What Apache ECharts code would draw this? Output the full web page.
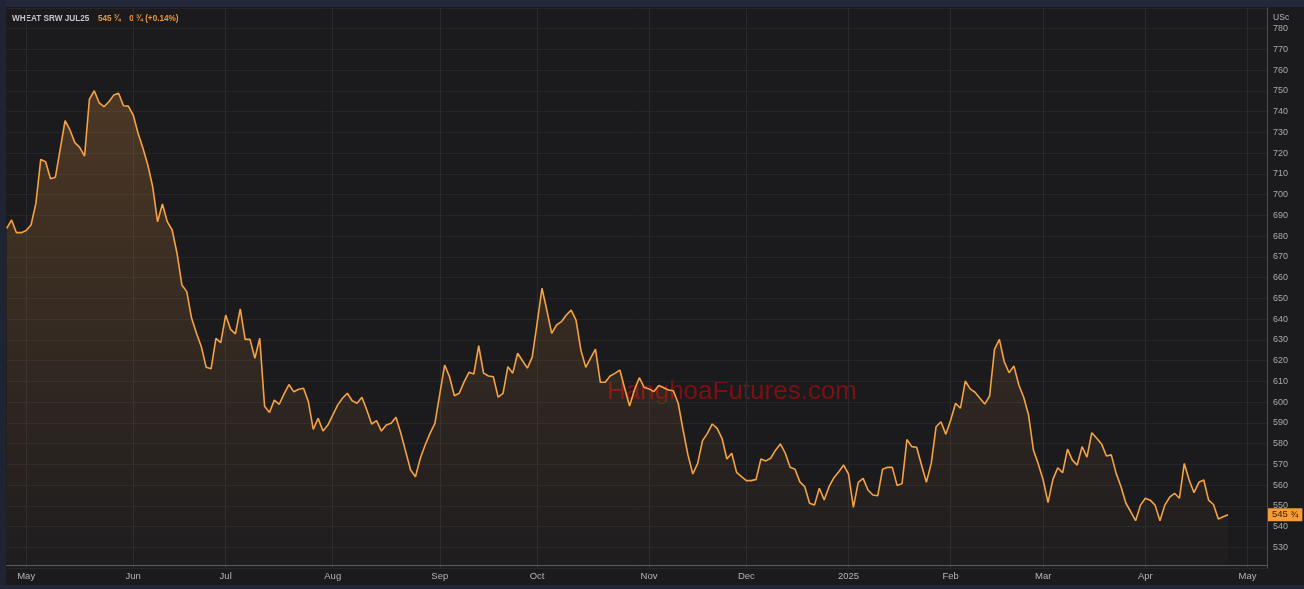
<!DOCTYPE html>
<html>
<head>
<meta charset="utf-8">
<script src="https://cdn.jsdelivr.net/npm/echarts@6/dist/echarts.min.js"></script>
<style>
html,body{margin:0;padding:0;background:#1b1b1e;}
#c{width:1304px;height:589px;}
</style>
</head>
<body>
<div id="c"></div>
<script>
// ---- data (daily closes, USc/bu, trading days from late Apr 2024 to 25 Apr 2025) ----
const prices = [
683.8,687.8,681.7,681.7,682.7,685.4,695.8,717,715.9,707.7,
708.4,722,735.7,731.2,725.1,722.8,718.6,746,750.1,744.3,
742.4,744.8,748,748.9,742.9,742.7,738.4,729.6,722.4,714.3,
703.9,687,695.5,687,683,671.8,656.5,653.3,640.4,633.2,
626.7,616.8,616.1,630.8,628.7,642,635.1,632.9,645,630.3,
630.3,621.2,630.8,598,595,601,599,604,608.5,605,
606.2,606.7,600.2,586.9,592.2,586.1,589,593.8,598.6,601.9,
604.3,600.7,599.5,602.4,596.2,589.5,591.1,586.1,589,589.8,
592.7,585,576.2,567.3,564.1,573,579.4,585,589.8,603.9,
617.9,612.3,603.1,604.3,609.8,614.4,613.6,627.2,614,612.6,
612.3,602.4,604.3,617.1,614,623.6,620,616.4,621.7,638,
654.9,644.4,633.2,637.2,638.8,642,644.4,639.6,625.1,616.8,
621.2,625.6,609.6,609.6,612.6,613.9,615.5,606.7,598.2,605.9,
611.8,607.2,606.4,605.1,608,607,605.9,605.5,599.5,586.6,
574.6,565.4,570.5,581.5,585,589.5,587.4,582.6,572.6,575.4,
566.2,564.1,562.2,562.2,562.8,572.6,571.7,573,576.9,579.9,
575.4,568.6,567.7,561.6,559.3,551.3,550.4,558.5,552.9,559.3,
563.6,566.5,569.7,565.4,549.3,561.4,563.3,557.7,555.3,554.9,
567.7,568.6,568.6,559.8,560.8,582,578.6,578.3,569.7,561.4,
570.5,588.2,590.6,584.5,591.4,599.5,597.1,610.2,606.4,604.8,
601.9,599.1,603,625.5,630.3,619.5,614.2,617.4,608.3,602.4,
593.8,576.9,570.2,562.5,551.6,562.8,568.4,566,577.4,572.1,
569.7,578.6,573.5,585.3,582.6,579.9,574.1,574.6,565.7,559.3,
551.3,547.2,542.9,550.4,553.7,552.8,550.4,542.9,550.4,554.2,
556.1,553.7,570.5,562.5,556.4,561.4,562.5,552.8,550.7,543.7,
544.8,545.75
];
const lastPriceText = '545 ¾';
const titleText = 'WHEAT SRW JUL25';
const changeText = '0 ¾ (+0.14%)';
const unitText = 'USc';
// month tick labels and the trading-day index at which each month starts
const monthLabels = ['May','Jun','Jul','Aug','Sep','Oct','Nov','Dec','2025','Feb','Mar','Apr','May'];
const monthStartIndex = [4,26,45,67,89,109,132,152,173,194,213,234,255];
const categoryCount = 260; // axis extends a few sessions past the last close
const yMin = 520, yMax = 790, yStep = 10;

// ---- build ----
const categories = Array.from({length: categoryCount}, (_, i) => String(i));
const tickMap = {};
monthStartIndex.forEach((idx, k) => { tickMap[idx] = monthLabels[k]; });
const isTick = (idx) => tickMap[idx] !== undefined;

const chart = echarts.init(document.getElementById('c'), null, {renderer: 'canvas'});
const narrow = '"Liberation Sans Narrow", "Liberation Sans", Arial, sans-serif';

chart.setOption({
  backgroundColor: '#1b1b1e',
  animation: false,
  grid: { left: 6.7, right: 37, top: 7.95, bottom: 589 - 568.2, containLabel: false },
  xAxis: {
    type: 'category',
    data: categories,
    boundaryGap: false,
    offset: -2.6,
    axisLine: { show: true, lineStyle: { color: '#5c5c60', width: 1 } },
    axisTick: { show: false },
    axisLabel: {
      interval: (idx) => isTick(idx),
      formatter: (v, idx) => tickMap[idx] || '',
      color: '#b4b4b8',
      fontSize: 9.5,
      fontFamily: narrow,
      margin: 6
    },
    splitLine: {
      show: true,
      interval: (idx) => isTick(idx),
      lineStyle: { color: '#2a2a2e', width: 1 }
    }
  },
  yAxis: {
    type: 'value',
    position: 'right',
    min: yMin,
    max: yMax,
    interval: yStep,
    axisLine: { show: true, lineStyle: { color: '#4e4e52', width: 1 } },
    axisTick: { show: false },
    axisLabel: {
      showMinLabel: false,
      showMaxLabel: false,
      color: '#a9a9ad',
      fontSize: 9,
      fontFamily: narrow,
      margin: 6
    },
    splitLine: { show: true, lineStyle: { color: '#262629', width: 1 } }
  },
  graphic: [
    { type: 'rect', shape: { x: 0, y: 0, width: 1304, height: 7 }, style: { fill: '#23293a' }, silent: true },
    { type: 'rect', shape: { x: 0, y: 0, width: 6, height: 589 }, style: { fill: '#1f2433' }, silent: true },
    { type: 'rect', shape: { x: 0, y: 585, width: 1304, height: 4 }, style: { fill: '#222838' }, silent: true },
    {
      type: 'text', x: 12, y: 12, scaleX: 0.86, silent: true,
      style: {
        text: '{t|' + titleText + '}   {p|' + lastPriceText + '}   {c|' + changeText + '}',
        rich: {
          t: { fill: '#c4c4c8', fontSize: 9.5, fontWeight: 'bold', fontFamily: narrow },
          p: { fill: '#e8963c', fontSize: 9.5, fontWeight: 'bold', fontFamily: narrow },
          c: { fill: '#e8963c', fontSize: 9.5, fontWeight: 'bold', fontFamily: narrow }
        }
      }
    },
    {
      type: 'text', x: 1273, y: 12, scaleX: 0.9, silent: true,
      style: { text: unitText, fill: '#b4b4b8', fontSize: 9.5, fontFamily: narrow }
    },
    {
      type: 'text', x: 607, y: 379, silent: true,
      style: { text: 'HanghoaFutures.com', fill: 'rgba(145,14,14,0.85)', fontSize: 26, fontFamily: 'Arial, "Liberation Sans", sans-serif' }
    }
  ],
  series: [{
    type: 'line',
    data: prices,
    symbol: 'none',
    smooth: false,
    lineStyle: { color: '#f5a244', width: 1.6 },
    areaStyle: {
      origin: 'start',
      color: new echarts.graphic.LinearGradient(0, 0, 0, 1, [
        { offset: 0, color: 'rgba(240,150,60,0.33)' },
        { offset: 1, color: 'rgba(240,150,60,0.02)' }
      ])
    },
    emphasis: { disabled: true },
    markLine: {
      silent: true,
      symbol: ['none', 'none'],
      lineStyle: { color: 'rgba(0,0,0,0)', width: 1, type: 'solid' },
      data: [{ yAxis: prices[prices.length - 1] }],
      label: {
        show: true,
        position: 'end',
        distance: 1,
        formatter: lastPriceText,
        backgroundColor: '#f59b38',
        color: '#3a2000',
        fontSize: 9.5,
        fontFamily: narrow,
        padding: [2, 4, 1, 4]
      }
    }
  }]
});
</script>
</body>
</html>
